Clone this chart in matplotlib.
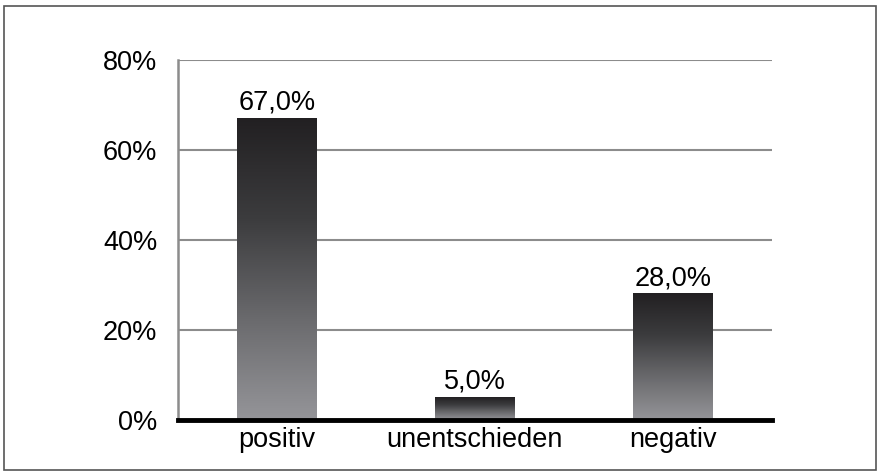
import numpy as np
import matplotlib.pyplot as plt
from matplotlib.colors import LinearSegmentedColormap
from matplotlib.patches import Rectangle

plt.rcParams['font.family'] = ['Liberation Sans', 'DejaVu Sans']

categories = ["positiv", "unentschieden", "negativ"]
values = [67.0, 5.0, 28.0]
yticks = [0, 20, 40, 60, 80]

fig = plt.figure(figsize=(8.81, 4.76), dpi=100)
ax = fig.add_axes([0.202, 0.1176, 0.674, 0.7564])

cmap = LinearSegmentedColormap.from_list("bar", ["#959599", "#6a6a6d", "#3c3c3e", "#222022"])
grad = np.linspace(0, 1, 256).reshape(-1, 1)

x = np.arange(len(categories))
width = 0.4
for xi, v in zip(x, values):
    ax.imshow(grad, cmap=cmap, origin="lower", aspect="auto",
              extent=[xi - width / 2, xi + width / 2, 0, v], zorder=3)
    ax.text(xi, v + 2.0, f"{v:.1f}%".replace(".", ","), ha="center", va="baseline",
            fontsize=19.5, zorder=4)

ax.set_xlim(-0.5, len(categories) - 0.5)
ax.set_ylim(0, 80)
ax.set_yticks(yticks)
ax.set_yticklabels([f"{t}%" for t in yticks], fontsize=19.5)
ax.set_xticks(x)
ax.set_xticklabels(categories, fontsize=19.5)
ax.tick_params(axis="x", length=0, pad=5)
ax.tick_params(axis="y", length=0, pad=15)

ax.grid(axis="y", color="#8c8c8c", linewidth=1.5, zorder=1)
ax.set_axisbelow(True)
for s in ["top", "right"]:
    ax.spines[s].set_visible(False)
ax.spines["left"].set_color("#8c8c8c")
ax.spines["left"].set_linewidth(1.8)
ax.spines["bottom"].set_color("black")
ax.spines["bottom"].set_linewidth(3.5)
ax.spines["bottom"].set_zorder(5)

fig.patches.append(Rectangle((4 / 881, 6 / 476), 872 / 881, 464 / 476,
                             transform=fig.transFigure, fill=False,
                             edgecolor="#555555", linewidth=1.2))

fig.savefig("out.png", dpi=100)
